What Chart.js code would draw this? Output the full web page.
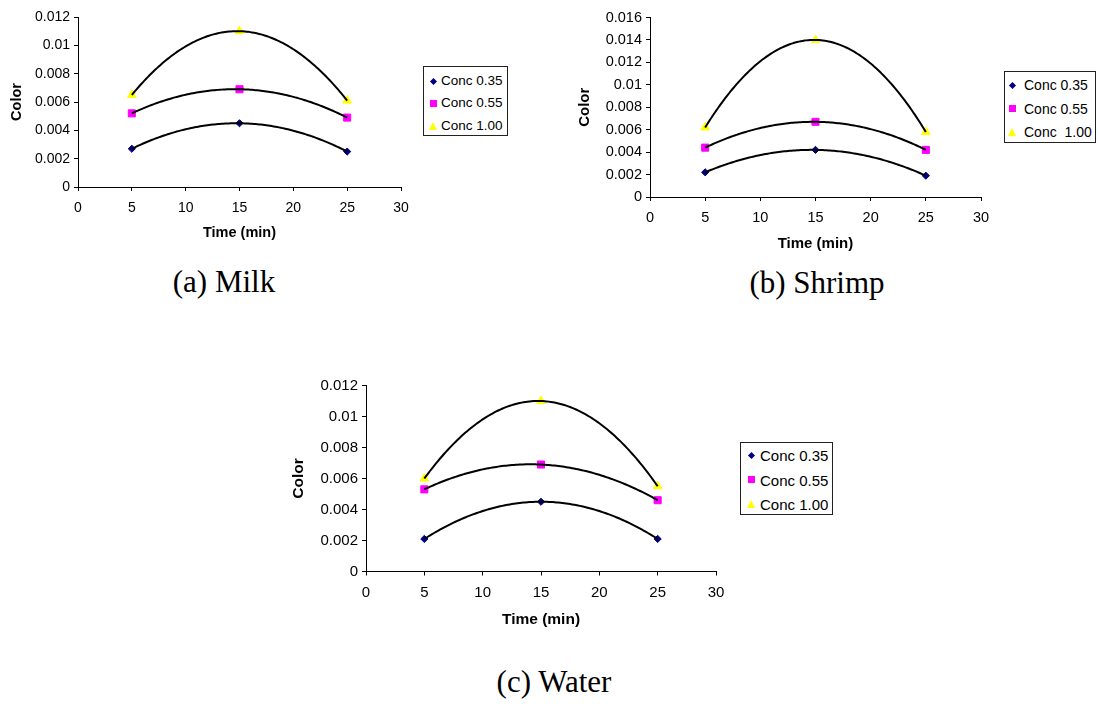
<!DOCTYPE html>
<html>
<head>
<meta charset="utf-8">
<script src="https://cdn.jsdelivr.net/npm/chart.js@4.4.1/dist/chart.umd.min.js"></script>
<style>
  body { margin: 0; background: #fff; width: 1098px; height: 704px; position: relative; overflow: hidden;
         font-family: 'Liberation Sans', Arial, sans-serif; }
  canvas, .legend, .caption { position: absolute; }
  .legend { border: 1px solid #222; box-sizing: border-box; background: #fff; }
  .legend .row { position: absolute; left: 0; right: 0; height: 0; }
  .legend .txt { position: absolute; top: 0; transform: translateY(-50%); white-space: pre; color: #000; line-height: 1; }
  .legend .mk { position: absolute; }
  .caption { font-family: 'Liberation Serif', 'Times New Roman', serif; font-size: 31px; color: #000;
             transform: translate(-50%, -50%); white-space: nowrap; }
</style>
</head>
<body>
<canvas id="milk"></canvas>
<canvas id="shrimp"></canvas>
<canvas id="water"></canvas>

<script>
// data
const timeMin = [5, 15, 25];

const milk035 = [0.0027, 0.0045, 0.0025];
const milk055 = [0.0052, 0.0069, 0.0049];
const milk100 = [0.0065, 0.0110, 0.0061];

const shrimp035 = [0.0022, 0.0042, 0.0019];
const shrimp055 = [0.0044, 0.0067, 0.0042];
const shrimp100 = [0.0062, 0.0140, 0.0058];

const water035 = [0.0021, 0.0045, 0.0021];
const water055 = [0.0053, 0.0069, 0.0046];
const water100 = [0.0060, 0.0110, 0.0055];

const seriesLabels = ['Conc 0.35', 'Conc 0.55', 'Conc 1.00'];
const shrimpLabels = ['Conc 0.35', 'Conc 0.55', 'Conc  1.00'];

const xTicks = [0, 5, 10, 15, 20, 25, 30];
const yTicksMilk = [0, 0.002, 0.004, 0.006, 0.008, 0.01, 0.012];
const yTicksShrimp = [0, 0.002, 0.004, 0.006, 0.008, 0.01, 0.012, 0.014, 0.016];
const yTicksWater = [0, 0.002, 0.004, 0.006, 0.008, 0.01, 0.012];

const captions = ['(a) Milk', '(b) Shrimp', '(c) Water'];

// marker styles (Excel defaults)
const markers = [
  { style: 'rectRot', color: '#000080', radius: 3.6 },
  { style: 'rect', color: '#FF00FF', radius: 5 },
  { style: 'triangle', color: '#FFFF00', radius: 5 }
];

// least squares 2nd order polynomial, like the Excel trendline
function quadFit(xs, ys) {
  let s0 = 0, s1 = 0, s2 = 0, s3 = 0, s4 = 0, t0 = 0, t1 = 0, t2 = 0;
  xs.forEach((x, i) => {
    const y = ys[i];
    s0 += 1; s1 += x; s2 += x * x; s3 += x * x * x; s4 += x * x * x * x;
    t0 += y; t1 += x * y; t2 += x * x * y;
  });
  const det = (m) => m[0][0] * (m[1][1] * m[2][2] - m[1][2] * m[2][1])
                   - m[0][1] * (m[1][0] * m[2][2] - m[1][2] * m[2][0])
                   + m[0][2] * (m[1][0] * m[2][1] - m[1][1] * m[2][0]);
  const A = [[s0, s1, s2], [s1, s2, s3], [s2, s3, s4]];
  const b = [t0, t1, t2];
  const D = det(A);
  return [0, 1, 2].map(k => det(A.map((row, r) => row.map((v, c) => (c === k ? b[r] : v)))) / D);
}

const trendline = {
  id: 'trendline',
  afterDatasetsDraw(chart) {
    const { ctx, scales: { x, y } } = chart;
    chart.data.datasets.forEach(ds => {
      const xs = ds.data.map(p => p.x);
      const ys = ds.data.map(p => p.y);
      const [c0, c1, c2] = quadFit(xs, ys);
      const lo = Math.min(...xs), hi = Math.max(...xs);
      ctx.save();
      ctx.beginPath();
      for (let i = 0; i <= 120; i++) {
        const xv = lo + (hi - lo) * i / 120;
        const px = x.getPixelForValue(xv);
        const py = y.getPixelForValue(c0 + c1 * xv + c2 * xv * xv);
        if (i === 0) ctx.moveTo(px, py); else ctx.lineTo(px, py);
      }
      ctx.lineWidth = 2;
      ctx.strokeStyle = '#000';
      ctx.lineJoin = 'round';
      ctx.stroke();
      ctx.restore();
    });
  }
};

const PAD_RIGHT = 22;

function makeChart(id, series, labels, yTicks, L) {
  const canvas = document.getElementById(id);
  canvas.width = L.plotRight + PAD_RIGHT;
  canvas.height = L.h;
  canvas.style.left = L.left + 'px';
  canvas.style.top = L.top + 'px';
  const lh = L.titleFont * 1.2;
  const tickFont = { family: "'Liberation Sans', Arial, sans-serif", size: L.tickFont };
  const titleFont = { family: "'Liberation Sans', Arial, sans-serif", size: L.titleFont, weight: 'bold' };

  const datasets = series.map((vals, i) => ({
    label: labels[i],
    data: timeMin.map((t, k) => ({ x: t, y: vals[k] })),
    pointStyle: markers[i].style,
    pointRadius: markers[i].radius,
    pointBackgroundColor: markers[i].color,
    pointBorderColor: markers[i].color,
    pointBorderWidth: 1,
    showLine: false
  }));

  return new Chart(canvas, {
    type: 'scatter',
    data: { datasets },
    options: {
      responsive: false,
      animation: false,
      devicePixelRatio: 1,
      layout: { padding: { left: 0, top: L.plotTop, right: PAD_RIGHT, bottom: 0 } },
      plugins: { legend: { display: false }, tooltip: { enabled: false } },
      scales: {
        x: {
          type: 'linear',
          min: 0,
          max: 30,
          afterBuildTicks: s => { s.ticks = xTicks.map(v => ({ value: v })); },
          afterFit: s => { s.height = L.h - L.plotBottom; },
          ticks: { color: '#000', font: tickFont, padding: L.tickPadX, maxRotation: 0 },
          grid: { drawOnChartArea: false, drawTicks: true, tickLength: 4, color: '#000' },
          border: { color: '#000', width: 1 },
          title: { display: true, text: 'Time (min)', color: '#000', font: titleFont,
                   padding: { top: 0, bottom: L.h - L.xTitleY - lh / 2 } }
        },
        y: {
          type: 'linear',
          min: 0,
          max: yTicks[yTicks.length - 1],
          afterBuildTicks: s => { s.ticks = yTicks.map(v => ({ value: v })); },
          afterFit: s => { s.width = L.plotLeft; },
          ticks: { color: '#000', font: tickFont, padding: 4, callback: v => String(+v.toFixed(4)) },
          grid: { drawOnChartArea: false, drawTicks: true, tickLength: 4, color: '#000' },
          border: { color: '#000', width: 1 },
          title: { display: true, text: 'Color', color: '#000', font: titleFont,
                   padding: { top: L.yTitleX - lh / 2, bottom: 0 } }
        }
      }
    },
    plugins: [trendline]
  });
}

function makeLegend(labels, G) {
  const box = document.createElement('div');
  box.className = 'legend';
  Object.assign(box.style, { left: G.left + 'px', top: G.top + 'px', width: G.w + 'px', height: G.h + 'px' });
  labels.forEach((lab, i) => {
    const row = document.createElement('div');
    row.className = 'row';
    row.style.top = (G.row0 + i * G.rowGap) + 'px';
    const mk = document.createElement('div');
    mk.className = 'mk';
    const c = markers[i].color;
    if (markers[i].style === 'rectRot') {
      Object.assign(mk.style, { width: '5px', height: '5px', background: c, transform: 'rotate(45deg)',
                                left: (G.mx - 2.5) + 'px', top: '-2.5px' });
    } else if (markers[i].style === 'rect') {
      Object.assign(mk.style, { width: '7px', height: '7px', background: c, left: (G.mx - 3.5) + 'px', top: '-3.5px' });
    } else {
      Object.assign(mk.style, { width: 0, height: 0, borderLeft: '4.5px solid transparent',
                                borderRight: '4.5px solid transparent', borderBottom: '8px solid ' + c,
                                left: (G.mx - 4.5) + 'px', top: '-4px' });
    }
    const txt = document.createElement('div');
    txt.className = 'txt';
    txt.textContent = lab;
    txt.style.left = G.tx + 'px';
    txt.style.fontSize = G.font + 'px';
    row.appendChild(mk);
    row.appendChild(txt);
    box.appendChild(row);
  });
  document.body.appendChild(box);
}

function makeCaption(text, cx, cy) {
  const d = document.createElement('div');
  d.className = 'caption';
  d.textContent = text;
  d.style.left = cx + 'px';
  d.style.top = cy + 'px';
  document.body.appendChild(d);
}

// positions are relative to each canvas
makeChart('milk', [milk035, milk055, milk100], seriesLabels, yTicksMilk,
  { left: 0, top: 0, h: 250, plotLeft: 78, plotTop: 17, plotBottom: 187, plotRight: 401,
    tickFont: 14, titleFont: 14.5, yTitleX: 17, xTitleY: 233, tickPadX: 9 });
makeChart('shrimp', [shrimp035, shrimp055, shrimp100], shrimpLabels, yTicksShrimp,
  { left: 570, top: 0, h: 262, plotLeft: 80, plotTop: 17.5, plotBottom: 197, plotRight: 411.5,
    tickFont: 14.5, titleFont: 15, yTitleX: 15, xTitleY: 244, tickPadX: 8 });
makeChart('water', [water035, water055, water100], seriesLabels, yTicksWater,
  { left: 280, top: 370, h: 280, plotLeft: 86, plotTop: 15.5, plotBottom: 201.5, plotRight: 436,
    tickFont: 15, titleFont: 15.5, yTitleX: 19, xTitleY: 250, tickPadX: 8 });

makeLegend(seriesLabels, { left: 423, top: 66, w: 85, h: 70, row0: 14, rowGap: 22.3, mx: 9, tx: 17, font: 13.5 });
makeLegend(shrimpLabels, { left: 1004, top: 71, w: 92, h: 72, row0: 13, rowGap: 23.5, mx: 7, tx: 19, font: 14 });
makeLegend(seriesLabels, { left: 740, top: 442, w: 93, h: 73, row0: 12, rowGap: 24.6, mx: 10.5, tx: 19, font: 15 });

makeCaption(captions[0], 224, 282);
makeCaption(captions[1], 817, 283);
makeCaption(captions[2], 554, 682);
</script>
</body>
</html>
